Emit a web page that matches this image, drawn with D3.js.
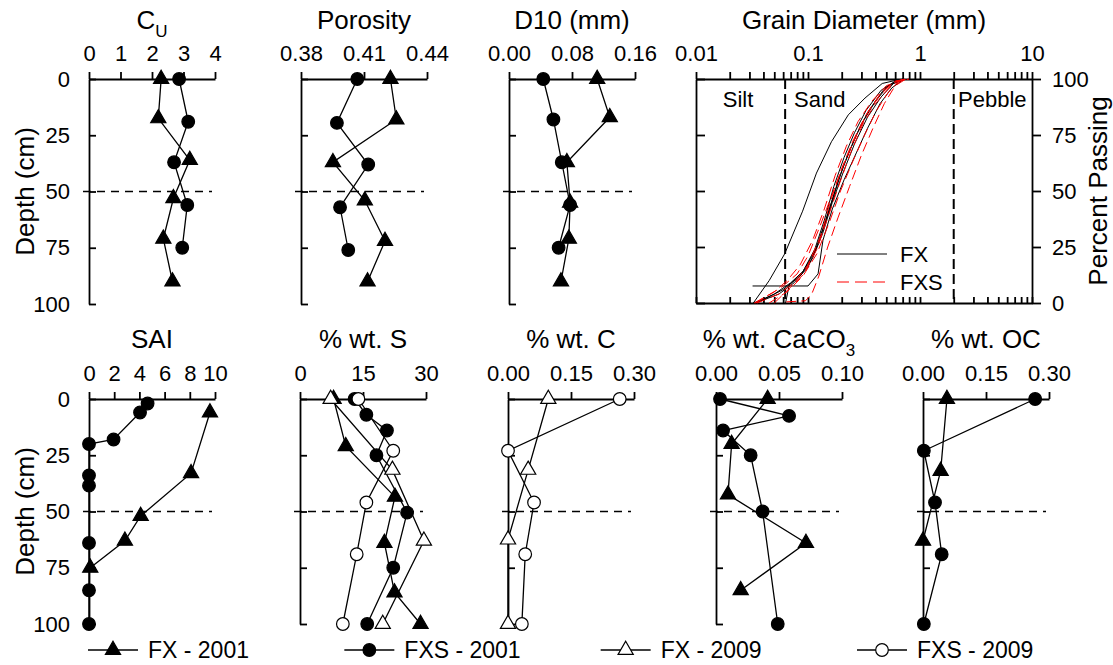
<!DOCTYPE html>
<html>
<head>
<meta charset="utf-8">
<script src="https://cdn.jsdelivr.net/npm/d3@7"></script>
<style>
  body { margin: 0; background: #fff; }
  text { font-family: "Liberation Sans", Arial, sans-serif; fill: #000; }
</style>
</head>
<body>
<div id="chart"></div>
<script>
const width = 1113, height = 665;

// depth ticks (cm), shared by all profiles
const depthTicks = [0, 25, 50, 75, 100];

// profile data, each point is [depth (cm), value]
const cuFX01   = [[0,2.29],[17.5,2.2],[36,3.2],[53,2.68],[71,2.36],[90,2.65]];
const cuFXS01  = [[0,2.86],[19,3.15],[37,2.7],[56,3.12],[75,2.96]];

const porFX01  = [[0,0.4226],[18,0.4254],[37,0.3952],[54,0.4104],[72,0.42],[90,0.4117]];
const porFXS01 = [[0,0.4068],[19.5,0.3971],[38,0.412],[57,0.3986],[76,0.4025]];

const d10FX01  = [[0,0.112],[17,0.128],[37,0.0735],[55,0.0776],[71,0.076],[90,0.066]];
const d10FXS01 = [[0,0.0435],[18,0.0564],[37,0.067],[56,0.0776],[75,0.063]];

const saiFX01  = [[6,9.6],[33,8.1],[52,4.1],[63,2.85],[75,0.1]];
const saiFXS01 = [[2,4.65],[6,4.05],[18,1.95],[20,0],[34,0],[38.5,0],[64,0],[85,0],[100,0]];

const sFX01    = [[0,8],[21,10.9],[43.5,22.6],[64,20.1],[86,22.5],[100,28.7]];
const sFXS01   = [[0,13],[7,15.8],[14,20.7],[25,18.2],[50.5,25.5],[75,22.2],[100,16]];
const sFX09    = [[0,7.3],[31.5,22],[63,29.5],[100,19.7]];
const sFXS09   = [[0,13.9],[23,22.2],[46,15.8],[69,13.5],[100,10.2]];

const cFX09    = [[0,0.096],[31.5,0.048],[62.5,0],[100,0]];
const cFXS09   = [[0,0.266],[23,0],[46,0.062],[69,0.041],[100,0.033]];

const caFX01   = [[0,0.041],[20,0.0124],[42.5,0.0095],[64,0.0714],[85,0.0196]];
const caFXS01  = [[0,0.0032],[7.5,0.058],[14,0.0056],[25,0.0275],[50,0.037],[100,0.049]];

const ocFX01   = [[0,0.057],[32,0.042],[63,0]];
const ocFXS01  = [[0,0.267],[23,0.002],[46,0.0286],[69,0.0445],[100,0.002]];

// grain size curves, each point is [diameter (mm), percent passing]
const gsFX = [
  [[0.0325,0],[0.045,10],[0.062,22],[0.0895,41],[0.119,58],[0.162,72],[0.229,84],[0.323,91.5],[0.46,98],[0.62,99.5],[0.72,100]],
  [[0.032,7.6],[0.1,7.6],[0.123,13],[0.136,28],[0.165,42],[0.21,55],[0.27,67],[0.34,78],[0.44,89],[0.56,96],[0.72,100]],
  [[0.033,0],[0.05,4],[0.07,9],[0.09,14],[0.115,24],[0.14,37],[0.17,52],[0.21,65],[0.26,76],[0.33,86],[0.45,95],[0.6,99],[0.72,100]],
  [[0.034,0],[0.055,4],[0.075,9],[0.1,16],[0.125,27],[0.155,42],[0.19,56],[0.24,69],[0.3,80],[0.4,90],[0.52,97],[0.72,100]],
  [[0.063,0],[0.068,8],[0.09,14],[0.115,23],[0.14,35],[0.17,48],[0.21,62],[0.27,75],[0.35,86],[0.47,95],[0.6,99],[0.72,100]],
  [[0.035,0],[0.06,6],[0.085,12],[0.11,20],[0.135,31],[0.165,45],[0.205,58],[0.26,71],[0.34,83],[0.45,92],[0.58,98],[0.72,100]]
];
const gsFXS = [
  [[0.064,0.5],[0.095,1],[0.108,4],[0.125,12],[0.15,25],[0.185,38],[0.235,52],[0.3,66],[0.38,78],[0.48,89],[0.6,97],[0.75,100]],
  [[0.033,0],[0.05,5],[0.065,10],[0.085,17],[0.11,28],[0.14,42],[0.175,57],[0.22,70],[0.28,81],[0.37,90],[0.5,97],[0.72,100]],
  [[0.034,0],[0.058,7],[0.08,13],[0.1,21],[0.125,33],[0.16,47],[0.205,61],[0.265,74],[0.34,85],[0.45,94],[0.6,99],[0.78,100]],
  [[0.045,0],[0.065,5],[0.09,12],[0.12,22],[0.155,36],[0.195,50],[0.25,63],[0.32,75],[0.41,86],[0.52,94],[0.65,99],[0.8,100]],
  [[0.035,0],[0.055,4],[0.075,9],[0.1,17],[0.13,30],[0.16,46],[0.2,60],[0.25,72],[0.33,84],[0.44,93],[0.6,99],[0.75,100]],
  [[0.05,0],[0.07,7],[0.092,13],[0.12,24],[0.15,38],[0.19,53],[0.24,67],[0.31,80],[0.4,89],[0.53,96],[0.68,99.5],[0.78,100]]
];

const grainTickLabels = [0.01, 0.1, 1, 10];
const passTicks = [0, 25, 50, 75, 100];
const siltSand = 0.0625, sandPebble = 2;

const legendNames = ["FX - 2001", "FXS - 2001", "FX - 2009", "FXS - 2009"];

// ---------------------------------------------------------------
const font = '"Liberation Sans", Arial, sans-serif';
const panelW = 126, panelH = 225;

const marks = {
  fx01:  {type: d3.symbolTriangle, size: 100, fill: "#000"},
  fxs01: {type: d3.symbolCircle,   size: 125, fill: "#000"},
  fx09:  {type: d3.symbolTriangle, size: 100, fill: "#fff"},
  fxs09: {type: d3.symbolCircle,   size: 125, fill: "#fff"}
};

const panels = [
  {title: "C", sub: "U", x0: 89, top: 79, titleY: 29, domain: [0,4], ticks: [0,1,2,3,4], fmt: d3.format("d"), yLab: true,
   series: [[cuFX01,"fx01"],[cuFXS01,"fxs01"]]},
  {title: "Porosity", x0: 301, top: 79, titleY: 29, domain: [0.38,0.44], ticks: [0.38,0.41,0.44], fmt: d3.format(".2f"),
   series: [[porFX01,"fx01"],[porFXS01,"fxs01"]]},
  {title: "D10 (mm)", x0: 509, top: 79, titleY: 29, domain: [0,0.16], ticks: [0,0.08,0.16], fmt: d3.format(".2f"),
   series: [[d10FX01,"fx01"],[d10FXS01,"fxs01"]]},
  {title: "SAI", x0: 89, top: 399, titleY: 348, domain: [0,10], ticks: [0,2,4,6,8,10], fmt: d3.format("d"), yLab: true,
   series: [[saiFX01,"fx01"],[saiFXS01,"fxs01"]]},
  {title: "% wt. S", x0: 300, top: 399, titleY: 348, domain: [0,30], ticks: [0,15,30], fmt: d3.format("d"),
   series: [[sFX01,"fx01"],[sFXS01,"fxs01"],[sFX09,"fx09"],[sFXS09,"fxs09"]]},
  {title: "% wt. C", x0: 508, top: 399, titleY: 348, domain: [0,0.3], ticks: [0,0.15,0.3], fmt: d3.format(".2f"),
   series: [[cFX09,"fx09"],[cFXS09,"fxs09"]]},
  {title: "% wt. CaCO", sub: "3", x0: 716, top: 399, titleY: 348, domain: [0,0.1], ticks: [0,0.05,0.1], fmt: d3.format(".2f"),
   series: [[caFX01,"fx01"],[caFXS01,"fxs01"]]},
  {title: "% wt. OC", x0: 923, top: 399, titleY: 348, domain: [0,0.3], ticks: [0,0.15,0.3], fmt: d3.format(".2f"),
   series: [[ocFX01,"fx01"],[ocFXS01,"fxs01"]]}
];

const svg = d3.select("#chart").append("svg")
  .attr("width", width)
  .attr("height", height)
  .style("background", "#fff");

function styleAxis(g, size) {
  g.attr("font-family", font).attr("font-size", size);
  g.selectAll("path, line").attr("stroke", "#000").attr("stroke-width", 1.8);
  g.selectAll("text").attr("fill", "#000");
}

function drawMarker(g, x, y, key) {
  const m = marks[key];
  g.append("path")
    .attr("transform", `translate(${x},${y})`)
    .attr("d", d3.symbol().type(m.type).size(m.size)())
    .attr("fill", m.fill)
    .attr("stroke", "#000")
    .attr("stroke-width", 1.2);
}

function drawProfile(p) {
  const g = svg.append("g");
  const x = d3.scaleLinear().domain(p.domain).range([p.x0, p.x0 + panelW]);
  const y = d3.scaleLinear().domain([0, 100]).range([p.top, p.top + panelH]);

  // title
  const t = g.append("text")
    .attr("x", p.x0 + panelW / 2)
    .attr("y", p.titleY)
    .attr("text-anchor", "middle")
    .attr("font-size", 26);
  t.append("tspan").text(p.title);
  if (p.sub) t.append("tspan").attr("font-size", 17).attr("dy", 8).text(p.sub);

  // dashed line at 50 cm
  g.append("line")
    .attr("x1", p.x0 - 6).attr("x2", p.x0 + panelW - 3)
    .attr("y1", y(50)).attr("y2", y(50))
    .attr("stroke", "#000").attr("stroke-width", 1.5)
    .attr("stroke-dasharray", "8,6");

  const xa = g.append("g")
    .attr("transform", `translate(0,${p.top})`)
    .call(d3.axisTop(x).tickValues(p.ticks).tickFormat(p.fmt).tickSize(7).tickSizeOuter(0).tickPadding(11));
  styleAxis(xa, 22);

  const ya = g.append("g")
    .attr("transform", `translate(${p.x0},0)`)
    .call(d3.axisLeft(y).tickValues(depthTicks).tickSize(7).tickSizeOuter(0).tickPadding(12)
      .tickFormat(p.yLab ? d3.format("d") : ""));
  ya.selectAll(".tick line").attr("x2", 7);   // ticks cross the axis
  styleAxis(ya, 22);

  if (p.yLab) {
    g.append("text")
      .attr("transform", `translate(34,${p.top + panelH / 2}) rotate(-90)`)
      .attr("text-anchor", "middle")
      .attr("font-size", 26)
      .text("Depth (cm)");
  }

  const line = d3.line().x(d => x(d[1])).y(d => y(d[0]));
  p.series.forEach(([data, key]) => {
    g.append("path").datum(data)
      .attr("fill", "none")
      .attr("stroke", "#000")
      .attr("stroke-width", 1.3)
      .attr("d", line);
    data.forEach(d => drawMarker(g, x(d[1]), y(d[0]), key));
  });
}

panels.forEach(drawProfile);

// ---------------- grain size panel ----------------
(function() {
  const g = svg.append("g");
  const left = 696, right = 1032, top = 79, bottom = 303;
  const gx = d3.scaleLog().domain([0.01, 10]).range([left, right]);
  const gy = d3.scaleLinear().domain([0, 100]).range([bottom, top]);

  g.append("text")
    .attr("x", (left + right) / 2).attr("y", 29)
    .attr("text-anchor", "middle").attr("font-size", 26)
    .text("Grain Diameter (mm)");

  // size class boundaries
  [siltSand, sandPebble].forEach(v => {
    g.append("line")
      .attr("x1", gx(v)).attr("x2", gx(v))
      .attr("y1", top).attr("y2", bottom)
      .attr("stroke", "#000").attr("stroke-width", 2)
      .attr("stroke-dasharray", "10,5");
  });

  g.append("text").attr("x", 738).attr("y", 107).attr("text-anchor", "middle").attr("font-size", 22).text("Silt");
  g.append("text").attr("x", 794).attr("y", 107).attr("font-size", 22).text("Sand");
  g.append("text").attr("x", 958).attr("y", 107).attr("font-size", 22).text("Pebble");

  const minor = gx.ticks();
  const topAxis = g.append("g").attr("transform", `translate(0,${top})`)
    .call(d3.axisTop(gx).tickValues(minor).tickSize(7).tickSizeOuter(0).tickPadding(11)
      .tickFormat(d => grainTickLabels.includes(d) ? String(d) : ""));
  styleAxis(topAxis, 22);

  const botAxis = g.append("g").attr("transform", `translate(0,${bottom})`)
    .call(d3.axisBottom(gx).tickValues(minor).tickSize(-6).tickSizeOuter(0).tickFormat(""));
  styleAxis(botAxis, 22);

  const leftAxis = g.append("g").attr("transform", `translate(${left},0)`)
    .call(d3.axisLeft(gy).tickValues(passTicks).tickSize(-9).tickSizeOuter(0).tickFormat(""));
  styleAxis(leftAxis, 22);

  const rightAxis = g.append("g").attr("transform", `translate(${right},0)`)
    .call(d3.axisRight(gy).tickValues(passTicks).tickSize(9).tickSizeOuter(0).tickPadding(11));
  styleAxis(rightAxis, 22);

  g.append("text")
    .attr("transform", `translate(1107,${(top + bottom) / 2}) rotate(-90)`)
    .attr("text-anchor", "middle").attr("font-size", 26)
    .text("Percent Passing");

  const line = d3.line().x(d => gx(d[0])).y(d => gy(d[1]));
  gsFX.forEach(c => g.append("path").datum(c)
    .attr("fill", "none").attr("stroke", "#000").attr("stroke-width", 1).attr("d", line));
  gsFXS.forEach(c => g.append("path").datum(c)
    .attr("fill", "none").attr("stroke", "#ff0000").attr("stroke-width", 1)
    .attr("stroke-dasharray", "10,5").attr("d", line));

  // inner legend
  g.append("line").attr("x1", 837).attr("x2", 887).attr("y1", 254).attr("y2", 254)
    .attr("stroke", "#000").attr("stroke-width", 1);
  g.append("text").attr("x", 900).attr("y", 254).attr("dy", "0.35em").attr("font-size", 22).text("FX");
  g.append("line").attr("x1", 837).attr("x2", 887).attr("y1", 282).attr("y2", 282)
    .attr("stroke", "#ff0000").attr("stroke-width", 1).attr("stroke-dasharray", "12,6");
  g.append("text").attr("x", 900).attr("y", 282).attr("dy", "0.35em").attr("font-size", 22).text("FXS");
})();

// ---------------- bottom legend ----------------
const legendKeys = ["fx01", "fxs01", "fx09", "fxs09"];
const legendX = d3.scalePoint().domain(legendKeys).range([113, 882]);
const legend = svg.append("g").attr("class", "legend");
legendKeys.forEach((k, i) => {
  const cx = legendX(k), cy = 650;
  legend.append("line")
    .attr("x1", cx - 25).attr("x2", cx + 25).attr("y1", cy).attr("y2", cy)
    .attr("stroke", "#000").attr("stroke-width", 1.3);
  drawMarker(legend, cx, cy, k);
  legend.append("text")
    .attr("x", cx + 35).attr("y", cy).attr("dy", "0.35em")
    .attr("font-size", 23)
    .text(legendNames[i]);
});
</script>
</body>
</html>
